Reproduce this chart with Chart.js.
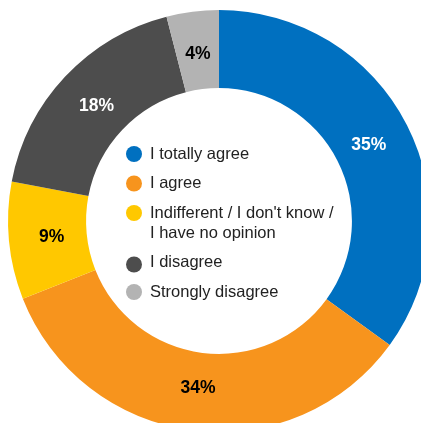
<!DOCTYPE html>
<html>
<head>
<meta charset="utf-8">
<script src="https://cdn.jsdelivr.net/npm/chart.js@4/dist/chart.umd.min.js"></script>
<style>
  html, body { margin: 0; padding: 0; background: #fff; overflow: hidden; width: 421px; height: 423px; }
  #wrap { position: absolute; left: 4px; top: 6px; width: 430px; height: 430px; }
</style>
</head>
<body>
<div id="wrap"><canvas id="chart"></canvas></div>
<script>
const labels = [
    'I totally agree',
    'I agree',
    ['Indifferent / I don\'t know /', 'I have no opinion'],
    'I disagree',
    'Strongly disagree'
];
const shares = [35, 34, 9, 18, 4];
const colors = ['#0070C0', '#F7941D', '#FFC800', '#4D4D4D', '#B3B3B3'];
const labelColors = ['#fff', '#000', '#000', '#fff', '#000'];

// percentage text in the middle of each ring segment
const sliceLabels = {
    id: 'sliceLabels',
    afterDatasetsDraw(chart) {
        const ctx = chart.ctx;
        const meta = chart.getDatasetMeta(0);
        ctx.save();
        ctx.font = 'bold 17.5px "Liberation Sans", Arial, sans-serif';
        ctx.textAlign = 'center';
        ctx.textBaseline = 'middle';
        meta.data.forEach((arc, i) => {
            const p = arc.getProps(['x', 'y', 'startAngle', 'endAngle', 'innerRadius', 'outerRadius']);
            const mid = (p.startAngle + p.endAngle) / 2;
            const r = p.innerRadius + (p.outerRadius - p.innerRadius) * 0.45;
            ctx.fillStyle = labelColors[i];
            ctx.fillText(shares[i] + '%', p.x + Math.cos(mid) * r, p.y + Math.sin(mid) * r);
        });
        ctx.restore();
    }
};

// legend drawn inside the hole
const centerLegend = {
    id: 'centerLegend',
    afterDraw(chart) {
        const ctx = chart.ctx;
        const arc = chart.getDatasetMeta(0).data[0];
        const cx = arc.x, cy = arc.y;
        ctx.save();
        ctx.font = '16.5px "Liberation Sans", Arial, sans-serif';
        ctx.textAlign = 'left';
        ctx.textBaseline = 'middle';
        let y = cy - 67;
        labels.forEach((label, i) => {
            const lines = Array.isArray(label) ? label : [label];
            ctx.fillStyle = colors[i];
            ctx.beginPath();
            ctx.arc(cx - 85, y + (i === 3 ? 2 : 0), 8, 0, Math.PI * 2);
            ctx.fill();
            ctx.fillStyle = '#222';
            lines.forEach((line, j) => ctx.fillText(line, cx - 69, y + j * 20));
            y += 29.5 + (lines.length - 1) * 20;
        });
        ctx.restore();
    }
};

new Chart(document.getElementById('chart'), {
    type: 'doughnut',
    data: {
        labels: labels,
        datasets: [{
            data: shares,
            backgroundColor: colors,
            borderWidth: 0
        }]
    },
    options: {
        responsive: true,
        maintainAspectRatio: false,
        animation: false,
        cutout: '63%',
        layout: { padding: 4 },
        plugins: {
            legend: { display: false },
            tooltip: { enabled: false }
        }
    },
    plugins: [sliceLabels, centerLegend]
});
</script>
</body>
</html>
